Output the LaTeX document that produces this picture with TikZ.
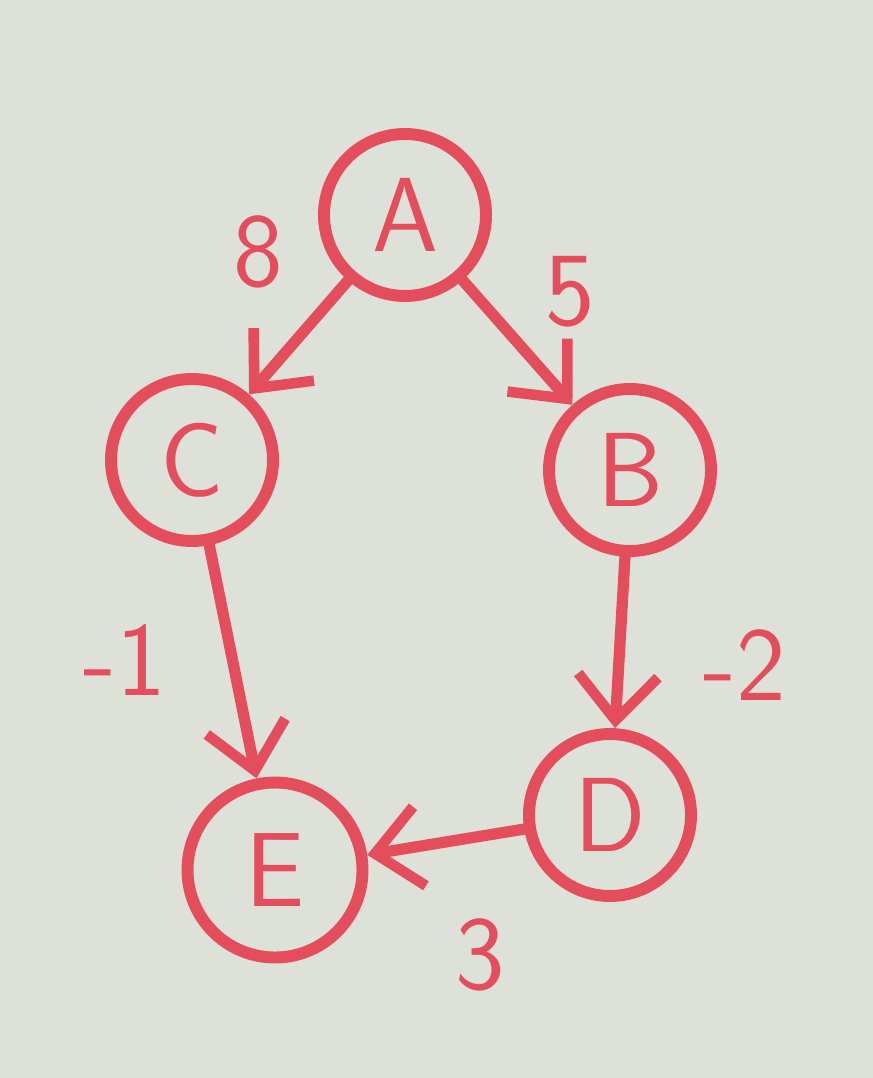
\documentclass[tikz,border=0pt]{standalone}
\usepackage{tikz}
\usetikzlibrary{arrows.meta, positioning}

\definecolor{board}{RGB}{222,225,216}
\definecolor{marker}{RGB}{228,78,92}

\begin{document}
\begin{tikzpicture}[>={Straight Barb[length=4.5mm, width=8mm, line width=3pt]}, vertex/.style={circle, draw=marker, line width=3.4pt, minimum size=1.62cm, text=marker, font=\fontsize{30}{34}\selectfont\sffamily}, weight/.style={text=marker, font=\fontsize{30}{34}\selectfont\sffamily}, edge/.style={draw=marker, line width=3.2pt, line cap=round}]
\fill[board] (0, 0) rectangle (8.73, -10.78);
\useasboundingbox (0, 0) rectangle (8.73, -10.78);
\node[vertex] (A) at (4.05, -2.15) {A};
\node[vertex] (C) at (1.92, -4.60) {C};
\node[vertex] (B) at (6.30, -4.70) {B};
\node[vertex] (D) at (6.10, -8.15) {D};
\node[vertex, minimum size=1.75cm] (E) at (2.75, -8.70) {E};
\draw[edge, ->] (A) -- (C); \draw[edge, ->] (A) -- (B);
\draw[edge, ->] (C) -- (E); \draw[edge, ->] (B) -- (D);
\draw[edge, ->] (D) -- (E);
\node[weight] (w8) at (2.58, -2.52) {8};
\node[weight] (w5) at (5.70, -2.92) {5};
\node[weight] (w1) at (1.25, -6.60) {-1};
\node[weight] (w2) at (7.45, -6.65) {-2};
\node[weight] (w3) at (4.80, -9.55) {3};
\end{tikzpicture}
\end{document}
